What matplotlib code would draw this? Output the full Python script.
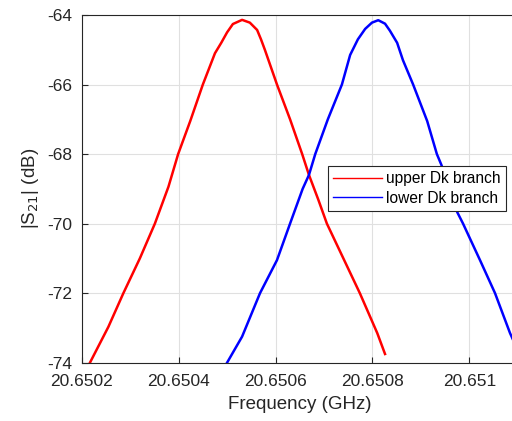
import matplotlib
matplotlib.use('Agg')
import matplotlib.pyplot as plt
from matplotlib.ticker import FuncFormatter

plt.rcParams['font.family'] = ['Liberation Sans', 'DejaVu Sans']
plt.rcParams['axes.unicode_minus'] = False

# upper Dk branch (red)
upper_freq = [20.650217, 20.650255, 20.650286, 20.650320, 20.650351, 20.650379,
              20.650399, 20.650424, 20.650450, 20.650475, 20.650488, 20.650500,
              20.650512, 20.650531, 20.650547, 20.650562, 20.650570, 20.650578,
              20.650593, 20.650603, 20.650630, 20.650655, 20.650669, 20.650688,
              20.650706, 20.650740, 20.650774, 20.650810, 20.650826]
upper_s21 = [-74.0, -72.97, -72.0, -71.0, -70.0, -68.94,
             -68.0, -67.05, -66.0, -65.1, -64.8, -64.5,
             -64.26, -64.14, -64.22, -64.43, -64.7, -65.0,
             -65.6, -66.0, -67.0, -68.0, -68.6, -69.3,
             -70.0, -71.0, -72.0, -73.15, -73.75]

# lower Dk branch (blue)
lower_freq = [20.650500, 20.650531, 20.650568, 20.650603, 20.650630, 20.650656,
              20.650669, 20.650682, 20.650708, 20.650737, 20.650754,
              20.650770, 20.650785, 20.650799, 20.650812, 20.650826, 20.650836,
              20.650851, 20.650863, 20.650884, 20.650913, 20.650933, 20.650942,
              20.650960, 20.650975, 20.650987, 20.651022, 20.651053, 20.651084,
              20.651105]
lower_s21 = [-74.0, -73.25, -72.0, -71.05, -70.0, -69.0,
             -68.6, -68.0, -67.0, -66.0, -65.15,
             -64.7, -64.4, -64.22, -64.15, -64.25, -64.45,
             -64.8, -65.3, -66.0, -67.05, -68.0, -68.3,
             -69.0, -69.67, -70.0, -71.05, -72.0, -73.15,
             -73.8]

x_ticks = [20.6502, 20.6504, 20.6506, 20.6508, 20.651]
y_ticks = [-74, -72, -70, -68, -66, -64]

fig = plt.figure(figsize=(5.12, 4.21), dpi=100)
ax = fig.add_axes([0.1596, 0.1385, 0.8517, 0.8259])

ax.plot(upper_freq, upper_s21, color='#ff0000', lw=1.8, label='upper Dk branch')
ax.plot(lower_freq, lower_s21, color='#0000ff', lw=1.8, label='lower Dk branch')

ax.set_xlim(20.6502, 20.6511)
ax.set_ylim(-74, -64)
ax.set_xticks(x_ticks)
ax.set_yticks(y_ticks)
ax.xaxis.set_major_formatter(FuncFormatter(lambda v, p: f'{v:g}'))
ax.grid(True, color='#e0e0e0', lw=0.8)
ax.set_axisbelow(True)

for s in ax.spines.values():
    s.set_color('#262626')
    s.set_linewidth(0.8)
ax.tick_params(direction='in', length=4, width=0.8, color='#262626',
               labelsize=12.5, labelcolor='#262626', top=False, right=False)
ax.tick_params(axis='x', pad=8)
ax.tick_params(axis='y', pad=7)

ax.set_xlabel('Frequency (GHz)', fontsize=13.5, color='#262626', labelpad=5)
ax.set_ylabel('|S$_{21}$| (dB)', fontsize=13.5, color='#262626', labelpad=4)

leg = ax.legend(loc='upper left', bbox_to_anchor=(328 / 512, 1 - 166 / 421),
                bbox_transform=fig.transFigure, fontsize=11.2, frameon=True,
                fancybox=False, framealpha=1, edgecolor='#262626',
                handlelength=3.1, handletextpad=0.25, labelspacing=0.28,
                borderpad=0.35, borderaxespad=0)
leg.get_frame().set_linewidth(0.8)
for line in leg.get_lines():
    line.set_linewidth(1.0)

fig.savefig('out.png', dpi=100)
